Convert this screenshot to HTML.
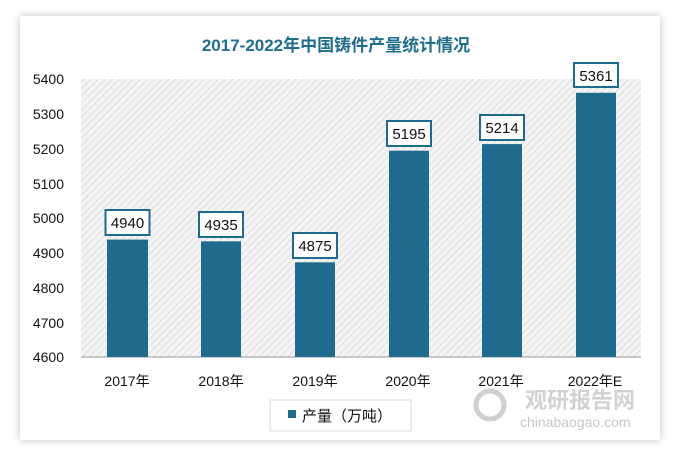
<!DOCTYPE html>
<html><head><meta charset="utf-8"><style>
body{margin:0;width:673px;height:456px;background:#fff;position:relative;overflow:hidden;font-family:"Liberation Sans","Noto Sans CJK SC",sans-serif}
.card{position:absolute;left:20px;top:16px;width:640px;height:424px;background:#fff;box-shadow:0 0 8px rgba(0,0,0,0.25)}
.t{position:absolute;font-size:14px;color:#111}
</style></head><body>
<div class="card"></div>
<svg width="673" height="456" style="position:absolute;left:0;top:0">
<defs><pattern id="h" width="5" height="5" patternUnits="userSpaceOnUse" patternTransform="rotate(45)"><rect width="5" height="5" fill="#f4f4f4"/><line x1="0" y1="0" x2="0" y2="5" stroke="#d6d6d6" stroke-width="1.5"/></pattern></defs>
<rect x="81" y="79" width="560" height="278" fill="url(#h)"/>
<line x1="81" y1="357" x2="641" y2="357" stroke="#999" stroke-width="1"/>
<text x="336" y="51" text-anchor="middle" font-size="17" font-weight="bold" fill="#1f6e8c" font-family="Liberation Sans,Noto Sans CJK SC,sans-serif">2017-2022年中国铸件产量统计情况</text>
<g font-size="14" fill="#111" text-anchor="end" font-family="Liberation Sans,sans-serif">
<text x="64" y="84">5400</text><text x="64" y="119">5300</text><text x="64" y="154">5200</text><text x="64" y="189">5100</text><text x="64" y="223">5000</text><text x="64" y="258">4900</text><text x="64" y="293">4800</text><text x="64" y="328">4700</text><text x="64" y="362">4600</text>
</g>
<g fill="#1e6b8e">
<rect x="107" y="239.6" width="41" height="117.4"/>
<rect x="201" y="241.3" width="40" height="115.7"/>
<rect x="295" y="262.3" width="40" height="94.7"/>
<rect x="389" y="150.7" width="40" height="206.3"/>
<rect x="482" y="144.1" width="40" height="212.9"/>
<rect x="576" y="92.8" width="40" height="264.2"/>
</g>
<g fill="#fff" stroke="#1e6b8e" stroke-width="2">
<rect x="105.5" y="210" width="44" height="25"/>
<rect x="199" y="212" width="44" height="25"/>
<rect x="293" y="233" width="44" height="25"/>
<rect x="387" y="121" width="44" height="25"/>
<rect x="480" y="115" width="44" height="25"/>
<rect x="574" y="63" width="44" height="24"/>
</g>
<g font-size="15" fill="#111" text-anchor="middle" font-family="Liberation Sans,sans-serif">
<text x="127.5" y="228">4940</text><text x="221" y="230">4935</text><text x="315" y="251">4875</text><text x="409" y="139">5195</text><text x="502" y="133">5214</text><text x="596" y="81">5361</text>
</g>
<g font-size="14" fill="#111" text-anchor="middle" font-family="Liberation Sans,Noto Sans CJK SC,sans-serif">
<text x="127" y="386">2017年</text><text x="221" y="386">2018年</text><text x="315" y="386">2019年</text><text x="408" y="386">2020年</text><text x="501" y="386">2021年</text><text x="595" y="386">2022年E</text>
</g>
<g font-size="22" font-weight="bold" fill="#c8c8c8" opacity="0.8" font-family="Noto Sans CJK SC,sans-serif"><text x="525" y="408">观研报告网</text></g>
<text x="520" y="427" font-size="14" fill="#c8c8c8" font-family="Liberation Sans,sans-serif">chinabaogao.com</text>
<circle cx="490" cy="405" r="14" fill="none" stroke="#d0d0d0" stroke-width="5"/>
<rect x="270" y="400" width="141" height="31" fill="#fff" stroke="#d9d9d9"/>
<rect x="288" y="410" width="8" height="8" fill="#1e6b8e"/>
<text x="302" y="421" font-size="15" fill="#111" font-family="Liberation Sans,Noto Sans CJK SC,sans-serif">产量（万吨）</text>
</svg>
</body></html>
